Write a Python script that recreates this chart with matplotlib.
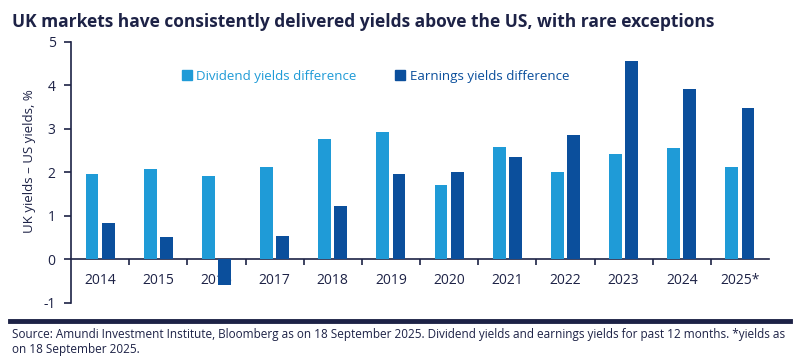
import numpy as np
import matplotlib

matplotlib.use("Agg")
import matplotlib.pyplot as plt
from matplotlib.lines import Line2D

plt.rcParams["font.family"] = ["Open Sans", "DejaVu Sans"]

years = ["2014", "2015", "2016", "2017", "2018", "2019", "2020", "2021",
         "2022", "2023", "2024", "2025*"]
dividend_diff = [1.97, 2.07, 1.91, 2.13, 2.76, 2.94, 1.71, 2.58, 2.00, 2.42, 2.56, 2.13]
earnings_diff = [0.83, 0.51, -0.58, 0.55, 1.22, 1.96, 2.01, 2.35, 2.87, 4.57, 3.92, 3.49]

NAVY_TXT = "#1d2246"
C_DIV = "#1f9bd7"
C_EARN = "#0b4f9c"

fig = plt.figure(figsize=(8.0, 3.63), dpi=100)
ax = fig.add_axes([0.08875, 0.1653, 0.8725, 0.719])

x = np.arange(len(years))
w = 0.22
off = 0.14
ax.bar(x - off, dividend_diff, width=w, color=C_DIV, zorder=3)
ax.bar(x + off, earnings_diff, width=w, color=C_EARN, zorder=3)

ax.set_xlim(-0.5, len(years) - 0.5)
ax.set_ylim(-1, 5)
ax.set_yticks(range(-1, 6))
ax.set_yticklabels([str(v) for v in range(-1, 6)])

for s in ("top", "right"):
    ax.spines[s].set_visible(False)
ax.spines["bottom"].set_position(("data", 0))
for s in ("left", "bottom"):
    ax.spines[s].set_color(NAVY_TXT)
    ax.spines[s].set_linewidth(1.2)

ax.set_xticks(x)
ax.set_xticklabels(years)
ax.set_xticks(np.arange(0.5, len(years) - 0.5, 1), minor=True)
ax.tick_params(axis="x", which="major", length=0, pad=10, labelsize=10, labelcolor=NAVY_TXT)
ax.tick_params(axis="x", which="minor", length=4, width=1.2, color=NAVY_TXT, direction="out")
ax.tick_params(axis="y", length=5, width=1.2, color=NAVY_TXT, labelsize=10,
               labelcolor=NAVY_TXT, pad=6)

ax.set_ylabel("UK yields \u2013 US yields, %", fontsize=9.5, color=NAVY_TXT)
ax.yaxis.set_label_coords(-0.05, 0.545)

handles = [Line2D([], [], ls="", marker="s", markersize=6.5, color=C_DIV),
           Line2D([], [], ls="", marker="s", markersize=6.5, color=C_EARN)]
leg = ax.legend(handles, ["Dividend yields difference", "Earnings yields difference"],
                loc="upper left", bbox_to_anchor=(0.139, 0.94), ncol=2, frameon=False,
                fontsize=9.6, handletextpad=0.2, columnspacing=2.8, handlelength=1.0)
for t, c in zip(leg.get_texts(), [C_DIV, C_EARN]):
    t.set_color(c)

fig.text(0.015, 0.94, "UK markets have consistently delivered yields above the US, with rare exceptions",
         fontsize=12.5, fontweight="bold", color=NAVY_TXT, ha="left", va="center")

fig.add_artist(Line2D([0.0125, 0.9875], [0.116, 0.116], transform=fig.transFigure,
                      color=NAVY_TXT, lw=3.5))
fig.text(0.015, 0.058, "Source: Amundi Investment Institute, Bloomberg as on 18 September 2025. "
         "Dividend yields and earnings yields for past 12 months. *yields as\non 18 September 2025.",
         fontsize=8.5, color=NAVY_TXT, ha="left", va="center", linespacing=1.25)

fig.savefig("out.png", dpi=100)
